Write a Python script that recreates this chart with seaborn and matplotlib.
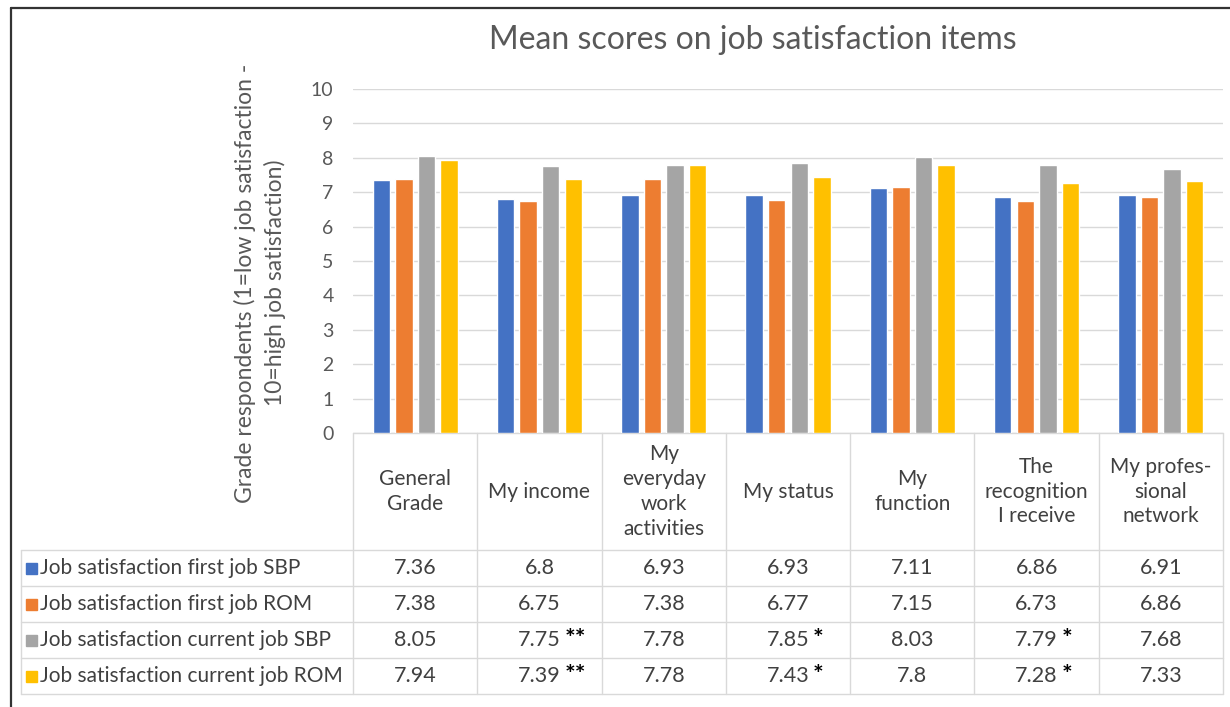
import pandas as pd
import matplotlib.pyplot as plt
import seaborn as sns
from matplotlib.patches import Rectangle

# data
items = ["General\nGrade", "My income", "My\neveryday\nwork\nactivities", "My status",
         "My\nfunction", "The\nrecognition\nI receive", "My profes-\nsional\nnetwork"]
series = ["Job satisfaction first job SBP", "Job satisfaction first job ROM",
          "Job satisfaction current job SBP", "Job satisfaction current job ROM"]
first_sbp = [7.36, 6.8, 6.93, 6.93, 7.11, 6.86, 6.91]
first_rom = [7.38, 6.75, 7.38, 6.77, 7.15, 6.73, 6.86]
current_sbp = [8.05, 7.75, 7.78, 7.85, 8.03, 7.79, 7.68]
current_rom = [7.94, 7.39, 7.78, 7.43, 7.8, 7.28, 7.33]
no_stars = ["", "", "", "", "", "", ""]
sig_stars = ["", "**", "", "*", "", "*", ""]
colors = ["#4472C4", "#ED7D31", "#A5A5A5", "#FFC000"]

values = [first_sbp, first_rom, current_sbp, current_rom]
stars = [no_stars, no_stars, sig_stars, sig_stars]

df = pd.DataFrame({
    "item": [it for s in series for it in items],
    "series": [s for s in series for it in items],
    "score": [v for row in values for v in row],
})

sns.set_style("white")
plt.rcParams["font.family"] = ["Lato", "DejaVu Sans"]

W, H = 1230, 707
fig = plt.figure(figsize=(W / 100, H / 100), dpi=100)

# table / frame overlay in pixel units
ov = fig.add_axes([0, 0, 1, 1], zorder=0)
ov.set_xlim(0, W)
ov.set_ylim(H, 0)
ov.axis("off")

x0, x1 = 353, 1223
y_top, y_base = 89, 433
ax = fig.add_axes([x0 / W, (H - y_base) / H, (x1 - x0) / W, (y_base - y_top) / H], zorder=1)
ax.patch.set_alpha(0)

sns.barplot(data=df, x="item", y="score", hue="series", palette=colors, saturation=1,
            width=0.727, gap=0.23, legend=False, ax=ax, zorder=3)
ax.set_xlim(-0.5, len(items) - 0.5)
ax.set_ylim(0, 10)
ax.set_yticks(range(0, 11))
ax.tick_params(axis="y", labelsize=14, colors="#595959", pad=14, length=0)
ax.set_xticks([])
ax.set_xlabel("")
ax.set_ylabel("")
ax.grid(axis="y", color="#D9D9D9", lw=1, zorder=0)
for sp in ax.spines.values():
    sp.set_visible(False)

ov.text(753, 40, "Mean scores on job satisfaction items", ha="center", va="center",
        fontsize=23, color="#595959")
ov.text(260, 283, "Grade respondents (1=low job satisfaction -\n10=high job satisfaction)",
        rotation=90, ha="center", va="center", fontsize=16.5, color="#595959", linespacing=1.45)

# frame
ov.plot([11, W], [8, 8], color="#333333", lw=1.6)
ov.plot([11, 11], [8, H], color="#333333", lw=1.6)

# data table
line_c = "#D9D9D9"
col_w = (x1 - x0) / len(items)
row_top = 550
row_h = 36
label_left = 21
nrows = len(series)
ov.plot([x0, x1], [y_base, y_base], color=line_c, lw=1)
for i in range(len(items) + 1):
    ov.plot([x0 + i * col_w] * 2, [y_base, row_top + nrows * row_h], color=line_c, lw=1)
ov.plot([label_left] * 2, [row_top, row_top + nrows * row_h], color=line_c, lw=1)
for r in range(nrows + 1):
    ov.plot([label_left, x1], [row_top + r * row_h] * 2, color=line_c, lw=1)

for i, it in enumerate(items):
    cx = x0 + (i + 0.5) * col_w
    ov.text(cx, (y_base + row_top) / 2, it, ha="center", va="center", fontsize=15,
            color="#404040", linespacing=1.3)

for r, (name, vals, st, c) in enumerate(zip(series, values, stars, colors)):
    cy = row_top + (r + 0.5) * row_h
    ov.add_patch(Rectangle((26, cy - 5.5), 11, 11, color=c))
    ov.text(40, cy, name, ha="left", va="center", fontsize=15, color="#404040")
    for i, v in enumerate(vals):
        cx = x0 + (i + 0.5) * col_w
        ov.text(cx, cy, f"{v:g}", ha="center", va="center", fontsize=15.5, color="#404040")
        if st[i]:
            ov.text(cx + 25, cy - 1, st[i], ha="left", va="center", fontsize=18,
                    fontweight="bold", color="black")

fig.savefig("out.png", dpi=100)
